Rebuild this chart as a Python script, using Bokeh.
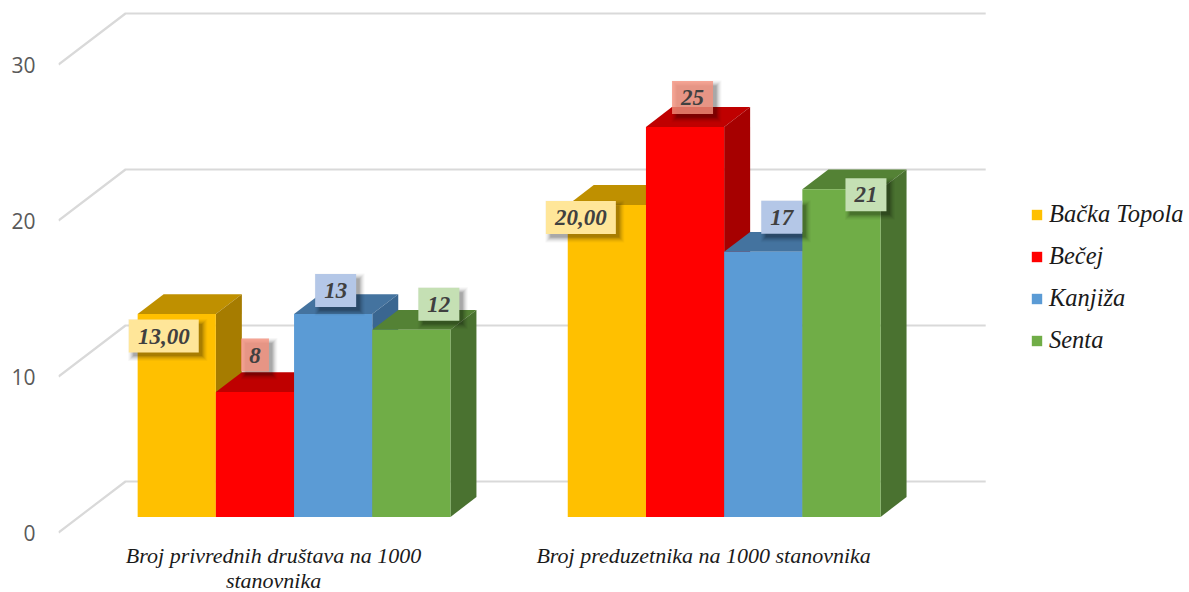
from bokeh.plotting import figure
from bokeh.models import Range1d, LinearAxis, FixedTicker, Legend, LegendItem
from bokeh.core.properties import value
from bokeh.embed import file_html
from bokeh.resources import INLINE

# ---------- data ----------
categories = ["Broj privrednih društava na 1000\nstanovnika", "Broj preduzetnika na 1000 stanovnika"]
series_names = ["Bačka Topola", "Bečej", "Kanjiža", "Senta"]
backa_topola = [13, 20]
becej = [8, 25]
kanjiza = [13, 17]
senta = [12, 21]
label_backa = ["13,00", "20,00"]
label_becej = ["8", "25"]
label_kanjiza = ["13", "17"]
label_senta = ["12", "21"]
y_ticks = [0, 10, 20, 30]

# ---------- styling / layout ----------
W, H = 1189, 592
LEFT = 58
BELOW_ZERO = 60   # px of frame under value 0
PX = 78.2      # px per bar width
PY = 15.6      # px per value unit
DX = 67 / PX   # full chart depth, x units
DY = 51 / PY   # full chart depth, value units
D0, D1 = 0.306, 0.694   # depth span of the bars
GROUP_STEP = 5.5
FIRST = 0.75
SERIF = "Liberation Serif"

front = ["#FFC000", "#FF0000", "#5B9BD5", "#70AD47"]
top_c = ["#BF9000", "#BF0000", "#44739F", "#548235"]
side_c = ["#A67C00", "#A60000", "#3A6690", "#4A7230"]
box_c = ["#FFE699", "#F5907C", "#B4C7E7", "#C5E0B4"]
box_a = [1, 0.8, 1, 1]
box_w = [70, 28, 41, 41], [70, 41, 41, 41]
# label-centre offset from the bar's front top-centre, px (right, up)
box_off = [[(-13, -22), (0, 37), (2.5, 23.5), (27.5, 25.5)],
           [(-26, -12.5), (7.5, 29.5), (18.5, 34.5), (24.5, -5.5)]]

p = figure(width=W, height=H, output_backend="svg", toolbar_location=None,
           x_range=Range1d(0, (W - LEFT) / PX),
           y_range=Range1d(-BELOW_ZERO / PY, (H - BELOW_ZERO) / PY),
           min_border_left=LEFT, min_border_right=0, min_border_top=0, min_border_bottom=0,
           outline_line_color=None, x_axis_location=None, y_axis_location=None)
p.xgrid.visible = False
p.ygrid.visible = False

# walls
n_units = 2 * GROUP_STEP
p.multi_line([[0, DX, n_units + DX] for _ in y_ticks],
             [[t, t + DY, t + DY] for t in y_ticks],
             line_color="#D9D9D9", line_width=2.2)

# value axis
ya = LinearAxis(ticker=FixedTicker(ticks=y_ticks), axis_line_color=None, major_tick_line_color=None,
                minor_tick_line_color=None, major_label_standoff=17,
                major_label_text_font="Open Sans", major_label_text_font_size="21px",
                major_label_text_color="#595959")
p.add_layout(ya, "left")

# category labels
centers = [FIRST + 2 + GROUP_STEP * g for g in range(len(categories))]
p.text(centers, [-10 / PY] * len(centers), text=categories, text_align="center", text_baseline="top",
       text_font=value(SERIF), text_font_style="italic", text_font_size="22px",
       text_color="#1a1a1a", text_line_height=1.0)

# bars, painted left to right
all_series = [backa_topola, becej, kanjiza, senta]
all_labels = [label_backa, label_becej, label_kanjiza, label_senta]
items = []
for i, vals in enumerate(all_series):
    x0 = [FIRST + GROUP_STEP * g + i + D0 * DX for g in range(len(vals))]
    lift = D0 * DY
    dx = (D1 - D0) * DX
    dy = (D1 - D0) * DY
    p.patches([[x, x + dx, x + 1 + dx, x + 1] for x in x0],
              [[v + lift, v + lift + dy, v + lift + dy, v + lift] for v in vals],
              fill_color=top_c[i], line_color=None)
    p.patches([[x + 1, x + 1 + dx, x + 1 + dx, x + 1] for x in x0],
              [[lift, lift + dy, v + lift + dy, v + lift] for v in vals],
              fill_color=side_c[i], line_color=None)
    r = p.vbar(x=[x + 0.5 for x in x0], width=1, bottom=lift, top=[v + lift for v in vals],
               fill_color=front[i], line_color=None)
    items.append(LegendItem(label=series_names[i], renderers=[r]))

# data labels
for i, (vals, labs) in enumerate(zip(all_series, all_labels)):
    xs, ys, ws = [], [], []
    for g, v in enumerate(vals):
        ox, oy = box_off[g][i]
        xs.append(FIRST + GROUP_STEP * g + i + D0 * DX + 0.5 + ox / PX)
        ys.append(v + D0 * DY + oy / PY)
        ws.append(box_w[g][i])
    # soft shadow
    for grow, alpha in [(9, 0.03), (7, 0.04), (5, 0.05), (3, 0.07), (1, 0.09), (-1, 0.11)]:
        p.rect([x + 4 / PX for x in xs], [y - 4 / PY for y in ys],
               width=[w + grow for w in ws], height=33 + grow,
               width_units="screen", height_units="screen",
               fill_color="#000000", fill_alpha=alpha, line_color=None)
    p.rect(xs, ys, width=ws, height=33, width_units="screen", height_units="screen",
           fill_color=box_c[i], fill_alpha=box_a[i], line_color=None)
    p.text(xs, ys, text=labs, text_align="center", text_baseline="middle",
           text_font=value(SERIF), text_font_style="bold italic", text_font_size="23px",
           text_color="#404040")

legend = Legend(items=items, location=(972, 238), orientation="vertical",
                glyph_width=13, glyph_height=13, label_standoff=6, label_height=20,
                spacing=14, padding=0, margin=0, border_line_color=None,
                background_fill_alpha=0,
                label_text_font=SERIF, label_text_font_style="italic",
                label_text_font_size="24.5px", label_text_color="#1a1a1a")
p.add_layout(legend, "center")

open("out.html", "w").write(file_html(p, INLINE))
